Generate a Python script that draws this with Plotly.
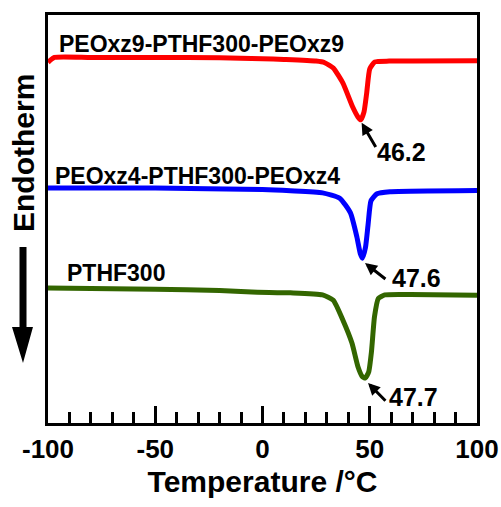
import plotly.graph_objects as go

# ---- data (temperature in degC, heat flow in arbitrary units) ----
t_red = [-100, -97, -80, -50, -20, 0, 10, 25, 29, 33, 37.5, 42, 44.5, 45.8, 47.3, 48.6, 50, 52.4, 59, 70, 100]
hf_red = [8.84, 8.96, 8.96, 8.96, 8.95, 8.93, 8.91, 8.87, 8.83, 8.70, 8.33, 7.75, 7.50, 7.43, 7.62, 8.10, 8.68, 8.85, 8.87, 8.87, 8.88]

t_blue = [-100, -50, 0, 13, 28, 36, 41, 44, 45.6, 46.6, 48.0, 49.2, 50.6, 53.4, 59.4, 100]
hf_blue = [5.76, 5.76, 5.72, 5.69, 5.64, 5.51, 5.15, 4.56, 4.15, 4.04, 4.30, 4.85, 5.45, 5.62, 5.67, 5.70]

t_green = [-100, -50, -20, -5, 13, 28, 33, 37.5, 41.7, 44.5, 46.5, 47.9, 49.5, 50.8, 52.2, 54.0, 57, 69, 100]
hf_green = [3.31, 3.28, 3.25, 3.21, 3.19, 3.14, 3.01, 2.52, 1.96, 1.38, 1.14, 1.10, 1.25, 1.75, 2.60, 3.05, 3.14, 3.15, 3.13]

names = ["PEOxz9-PTHF300-PEOxz9", "PEOxz4-PTHF300-PEOxz4", "PTHF300"]
peak_labels = ["46.2", "47.6", "47.7"]
tick_vals = [-100, -50, 0, 50, 100]
tick_text = ["-100", "-50", "0", "50", "100"]

FONT = "Liberation Sans, Arial, sans-serif"
W, H = 501, 507
ML, MR, MT, MB = 48, 24, 15, 84
PW, PH = W - ML - MR, H - MT - MB


def px2paper(x, y):
    return (x - ML) / PW, (H - MB - y) / PH


fig = go.Figure()
for t, hf, col in [(t_red, hf_red, "#ff0000"), (t_blue, hf_blue, "#0000ff"), (t_green, hf_green, "#336600")]:
    fig.add_trace(go.Scatter(x=t, y=hf, mode="lines", line=dict(color=col, width=5, shape="spline", smoothing=0.5),
                             showlegend=False, hoverinfo="skip"))

# curve names
name_pos = [(-95.8, 9.29), (-97.7, 6.05), (-92.1, 3.68)]
for n, (x, y) in zip(names, name_pos):
    fig.add_annotation(x=x, y=y, text=n, showarrow=False, xanchor="left", yanchor="middle",
                       font=dict(family=FONT, size=23, color="black", weight="bold"))

# peak labels + arrows
lab_pos = [(65.0, 6.64), (72.0, 3.55), (70.2, 0.64)]
arrows = [((46.2, 7.36), (53.2, 6.73)), ((47.8, 3.92), (58.0, 3.50)), ((49.2, 0.98), (58.0, 0.51))]
for lab, (x, y), (head, tail) in zip(peak_labels, lab_pos, arrows):
    fig.add_annotation(x=x, y=y, text=lab, showarrow=False, xanchor="center", yanchor="middle",
                       font=dict(family=FONT, size=25, color="black", weight="bold"))
    fig.add_annotation(x=head[0], y=head[1], ax=tail[0], ay=tail[1], axref="x", ayref="y", text="",
                       showarrow=True, arrowhead=2, arrowsize=0.8, arrowwidth=3, arrowcolor="black")

# y axis title
yx, yy = px2paper(23, 153)
fig.add_annotation(x=yx, y=yy, xref="paper", yref="paper", text="Endotherm", textangle=-90, showarrow=False,
                   xanchor="center", yanchor="middle",
                   font=dict(family=FONT, size=30, color="black", weight="bold"))

# big down arrow
pts = [(19.5, 247), (26.5, 247), (26.5, 327), (33, 327), (23, 363), (12, 327), (19.5, 327)]
pp = [px2paper(a, b) for a, b in pts]
path = "M " + " L ".join(f"{a:.4f},{b:.4f}" for a, b in pp) + " Z"
fig.add_shape(type="path", path=path, xref="paper", yref="paper", fillcolor="black", line=dict(width=0))

fig.update_layout(
    width=W, height=H, margin=dict(l=ML, r=MR, t=MT, b=MB, autoexpand=False),
    paper_bgcolor="white", plot_bgcolor="white",
    xaxis=dict(range=[-100, 100], tickvals=tick_vals, ticktext=tick_text, ticks="inside", ticklen=17, tickwidth=3,
               tickcolor="black", showline=True, linewidth=3, linecolor="black", mirror=True, showgrid=False,
               zeroline=False, automargin=False, ticklabelstandoff=1,
               minor=dict(dtick=10, tick0=0, ticks="inside", ticklen=11, tickwidth=3, tickcolor="black", showgrid=False),
               tickfont=dict(family=FONT, size=26, color="black", weight="bold"),
               title=dict(text="Temperature /°C", standoff=8,
                          font=dict(family=FONT, size=30, color="black", weight="bold"))),
    yaxis=dict(range=[0, 10], showticklabels=False, ticks="", showline=True, linewidth=3, linecolor="black",
               mirror=True, showgrid=False, zeroline=False, automargin=False),
)

fig.write_html("out.html")
